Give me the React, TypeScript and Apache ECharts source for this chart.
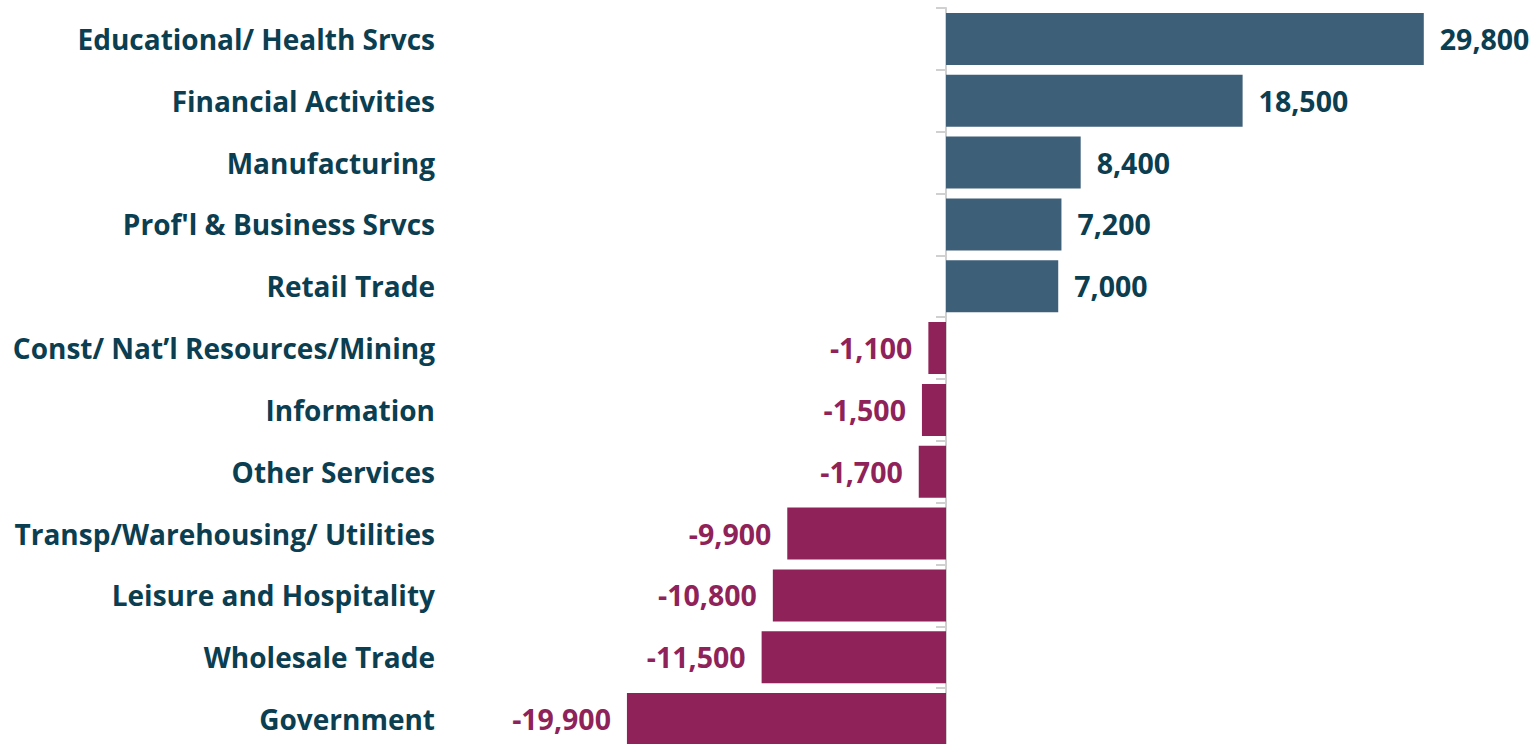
import React, { useEffect, useRef } from "react";
import * as echarts from "echarts";

const categories = [
  "Educational/ Health Srvcs",
  "Financial Activities",
  "Manufacturing",
  "Prof'l & Business Srvcs",
  "Retail Trade",
  "Const/ Nat\u2019l Resources/Mining",
  "Information",
  "Other Services",
  "Transp/Warehousing/ Utilities",
  "Leisure and Hospitality",
  "Wholesale Trade",
  "Government",
];
const values = [29800, 18500, 8400, 7200, 7000, -1100, -1500, -1700, -9900, -10800, -11500, -19900];

const POS = "#3e5f78";
const NEG = "#8f2359";
const TEXT = "#0b3e50";
const FONT = "'Open Sans', 'Noto Sans', sans-serif";

export default function App() {
  const ref = useRef<HTMLDivElement>(null);
  useEffect(() => {
    if (!ref.current) return;
    const chart = echarts.init(ref.current, undefined, { renderer: "svg" });
    const fmt = (v: number) => v.toLocaleString("en-US");
    chart.setOption({
      animation: false,
      grid: { left: 465, right: 110, top: 8, bottom: 0, containLabel: false },
      xAxis: {
        type: "value",
        min: -30000,
        max: 30000,
        show: false,
      },
      yAxis: [
        {
          type: "category",
          data: categories,
          inverse: true,
          axisLine: { show: false, onZero: false },
          axisTick: { show: false },
          axisLabel: {
            margin: 30,
            color: TEXT,
            fontFamily: FONT,
            fontWeight: "bold",
            fontSize: 28,
            padding: [0, 0, 4, 0],
          },
        },
        {
          type: "category",
          data: categories,
          inverse: true,
          position: "left",
          axisLine: { show: true, onZero: true, lineStyle: { color: "#d0d0d0", width: 2 } },
          axisTick: { show: true, length: 10, lineStyle: { color: "#d0d0d0", width: 2 } },
          axisLabel: { show: false },
        },
      ],
      series: [
        {
          type: "bar",
          yAxisIndex: 0,
          barCategoryGap: "16%",
          data: values.map((v) => ({
            value: v,
            itemStyle: { color: v >= 0 ? POS : NEG },
            label: {
              show: true,
              position: v >= 0 ? "right" : "left",
              distance: 16,
              color: v >= 0 ? TEXT : NEG,
              fontFamily: FONT,
              fontWeight: "bold",
              fontSize: 28.5,
              formatter: () => fmt(v),
            },
          })),
        },
      ],
    });
    return () => chart.dispose();
  }, []);
  return (
    <div
      ref={ref}
      style={{ position: "fixed", left: 0, top: 0, width: 1537, height: 750, background: "#fff" }}
    />
  );
}
